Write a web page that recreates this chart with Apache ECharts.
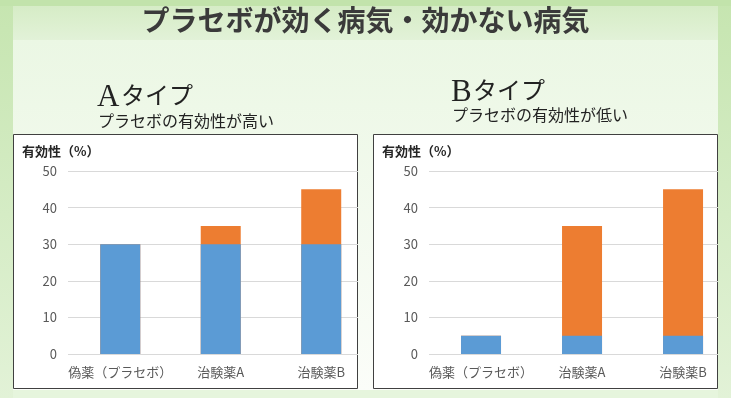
<!DOCTYPE html>
<html>
<head>
<meta charset="utf-8">
<script src="https://cdn.jsdelivr.net/npm/echarts@6/dist/echarts.min.js"></script>
<style>
  html, body { margin: 0; padding: 0; }
  #chart { width: 731px; height: 398px; }
</style>
</head>
<body>
<div id="chart"></div>
<script>
// カテゴリ
const categories = ['偽薬（プラセボ）', '治験薬A', '治験薬B'];
// Aタイプ：全体の有効性（橙の上端）とプラセボ効果分（青）
const typeATotal = [30, 35, 45];
const typeAPlacebo = [30, 30, 30];
// Bタイプ
const typeBTotal = [5, 35, 45];
const typeBPlacebo = [5, 5, 5];
const yTicks = [0, 10, 20, 30, 40, 50];

const JP = '"Noto Sans CJK JP", sans-serif';
const SERIF = '"Liberation Serif", serif';
const BLUE = '#5b9bd5';
const ORANGE = '#ed7d31';

// カテゴリ位置 (i + 0.5) に載せる
function toPoints(arr) {
    return arr.map(function (v, i) { return [i + 0.5, v]; });
}
const catPos = categories.map(function (c, i) { return i + 0.5; });

function xAxisFor(gridIndex, min, max) {
    return {
        type: 'value', gridIndex: gridIndex, min: min, max: max,
        axisLine: { show: false }, axisTick: { show: false }, splitLine: { show: false },
        axisLabel: {
            customValues: catPos, color: '#595959', fontSize: 13, fontFamily: JP, margin: 12,
            formatter: function (v) { return categories[Math.round(v - 0.5)]; }
        }
    };
}
function yAxisFor(gridIndex) {
    return {
        type: 'value', gridIndex: gridIndex, min: yTicks[0], max: yTicks[yTicks.length - 1], interval: 10,
        axisLine: { show: false }, axisTick: { show: false },
        splitLine: { lineStyle: { color: '#d9d9d9', width: 1 } },
        axisLabel: { color: '#595959', fontSize: 13, fontFamily: JP, margin: 11 }
    };
}
// 同じ位置に重ねて描く（橙＝全体、その上に青＝プラセボ分）
function barSeries(idx, data, color) {
    return {
        type: 'bar', xAxisIndex: idx, yAxisIndex: idx, barWidth: 40, barGap: '-100%',
        data: toPoints(data), itemStyle: { color: color }, silent: true
    };
}

const chart = echarts.init(document.getElementById('chart'), null, { renderer: 'canvas' });

const bgStrip = new echarts.graphic.LinearGradient(0, 0, 0, 1, [
    { offset: 0, color: '#c6e5b0' }, { offset: 1, color: '#e2f2d7' }
]);

const option = {
    animation: false,
    backgroundColor: '#e6f4dc',
    grid: [
        { left: 68, top: 171, width: 290, height: 183 },
        { left: 429, top: 171, width: 289, height: 183 }
    ],
    xAxis: [xAxisFor(0, -0.02, 2.866), xAxisFor(1, -0.015, 2.846)],
    yAxis: [yAxisFor(0), yAxisFor(1)],
    series: [
        barSeries(0, typeATotal, ORANGE),
        barSeries(0, typeAPlacebo, BLUE),
        barSeries(1, typeBTotal, ORANGE),
        barSeries(1, typeBPlacebo, BLUE)
    ],
    graphic: [
        // 背景
        { type: 'rect', z: -10, shape: { x: 0, y: 0, width: 13, height: 398 }, style: { fill: bgStrip } },
        { type: 'rect', z: -10, shape: { x: 718, y: 0, width: 13, height: 398 }, style: { fill: bgStrip } },
        { type: 'rect', z: -10, shape: { x: 0, y: 0, width: 731, height: 6 }, style: { fill: '#c2e3ab' } },
        { type: 'rect', z: -10, shape: { x: 13, y: 6, width: 705, height: 34 },
          style: { fill: new echarts.graphic.LinearGradient(0, 0, 0, 1, [{ offset: 0, color: '#d6ecc6' }, { offset: 1, color: '#e2f2d8' }]) } },
        { type: 'rect', z: -10, shape: { x: 13, y: 40, width: 705, height: 350 },
          style: { fill: new echarts.graphic.LinearGradient(0, 0, 0, 1, [{ offset: 0, color: '#ebf7e4' }, { offset: 1, color: '#fbfdf9' }]) } },
        { type: 'rect', z: -10, shape: { x: 13, y: 390, width: 705, height: 8 }, style: { fill: '#e6f5dd' } },
        // パネル枠
        { type: 'rect', z: -5, shape: { x: 13.5, y: 134.5, width: 344, height: 254 },
          style: { fill: '#ffffff', stroke: '#404040', lineWidth: 1 } },
        { type: 'rect', z: -5, shape: { x: 373.5, y: 134.5, width: 344, height: 254 },
          style: { fill: '#ffffff', stroke: '#404040', lineWidth: 1 } },
        // タイトル
        { type: 'text', left: 'center', top: 6,
          style: { text: 'プラセボが効く病気・効かない病気', font: 'bold 28px ' + JP, fill: '#3a3a3a' } },
        // Aタイプ
        { type: 'text', x: 97, y: 82, style: { text: 'A', font: '31px ' + SERIF, fill: '#222' } },
        { type: 'text', x: 121, y: 83, style: { text: 'タイプ', font: '24px ' + JP, fill: '#222' } },
        { type: 'text', x: 98, y: 113,
          style: { text: 'プラセボの有効性が高い', font: '16px ' + JP, fill: '#222' } },
        // Bタイプ
        { type: 'text', x: 451, y: 77, style: { text: 'B', font: '31px ' + SERIF, fill: '#222' } },
        { type: 'text', x: 473, y: 78, style: { text: 'タイプ', font: '24px ' + JP, fill: '#222' } },
        { type: 'text', x: 452, y: 107,
          style: { text: 'プラセボの有効性が低い', font: '16px ' + JP, fill: '#222' } },
        // 縦軸タイトル
        { type: 'text', x: 22, y: 145,
          style: { text: '有効性（%）', font: 'bold 13px ' + JP, fill: '#262626' } },
        { type: 'text', x: 382, y: 145,
          style: { text: '有効性（%）', font: 'bold 13px ' + JP, fill: '#262626' } }
    ]
};

chart.setOption(option);

window.onresize = function () {
    chart.resize();
};
</script>
</body>
</html>
